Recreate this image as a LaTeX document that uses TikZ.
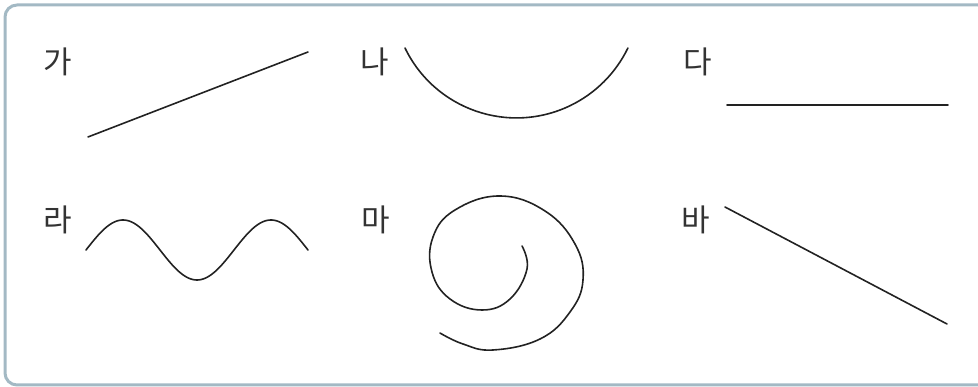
\documentclass[tikz,border=0pt]{standalone}
\usepackage{fontspec}
\newfontfamily\cjk{Noto Sans CJK KR}
\definecolor{framec}{HTML}{A3B9C4}
\definecolor{labelc}{HTML}{333333}
\definecolor{curvec}{HTML}{222222}
\begin{document}
\begin{tikzpicture}[x=1pt,y=1pt,
  lbl/.style={font=\cjk\fontsize{31}{31}\selectfont, text=labelc, inner sep=0pt, anchor=center},
  curve/.style={draw=curvec, line width=1.6pt, line cap=round, line join=round}]
\useasboundingbox (0,0) rectangle (978,387);
\begin{scope}
\clip (0,0) rectangle (978,387);
\draw[framec, line width=3pt, rounded corners=12pt] (5,2) rectangle (990,382);
\end{scope}
% labels (Y = 387 - y)
\node[lbl] (ga) at (58,325) {가};
\node[lbl] (na) at (375,325) {나};
\node[lbl] (da) at (698,325) {다};
\node[lbl] (ra) at (58,167) {라};
\node[lbl] (ma) at (376,167) {마};
\node[lbl] (ba) at (696,167) {바};
% ga: straight rising line
\draw[curve] (88,250) -- (308,335);
% na: arc
\draw[curve] (405,339) arc[start angle=205.8, end angle=334.2, radius=123.8];
% da: horizontal line
\draw[curve] (727,282) -- (948,282);
% ra: sine wave
\draw[curve] plot[domain=0:540, samples=120] ({86+\x/360*148}, {137+30*sin(\x)});
% ma: spiral
\draw[curve] plot[smooth, tension=0.7] coordinates {
 (522,141) (527,118) (510,88) (482,77) (450,88) (432,115) (433,150)
 (455,177) (500,191) (545,176) (575,143) (583,107) (570,75) (540,48)
 (493,37) (463,43) (440,54)};
% ba: falling line
\draw[curve] (725,180) -- (947,63);
\end{tikzpicture}
\end{document}
